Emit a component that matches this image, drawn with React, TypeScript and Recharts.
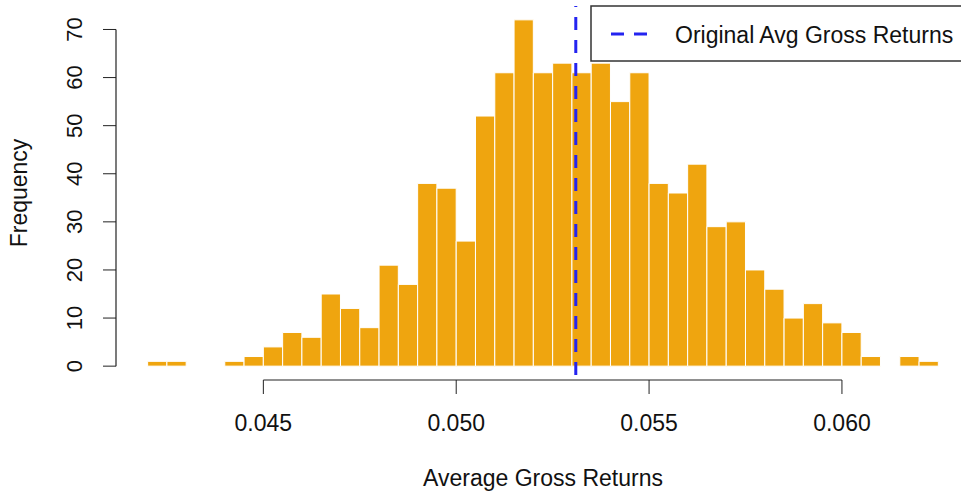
import { ComposedChart, Bar, XAxis, YAxis, ReferenceLine } from 'recharts';

// bin midpoints (bin width 0.0005, breaks 0.042 .. 0.0625)
const binMids = [
  0.04225, 0.04275, 0.04325, 0.04375, 0.04425, 0.04475, 0.04525, 0.04575, 0.04625, 0.04675,
  0.04725, 0.04775, 0.04825, 0.04875, 0.04925, 0.04975, 0.05025, 0.05075, 0.05125, 0.05175,
  0.05225, 0.05275, 0.05325, 0.05375, 0.05425, 0.05475, 0.05525, 0.05575, 0.05625, 0.05675,
  0.05725, 0.05775, 0.05825, 0.05875, 0.05925, 0.05975, 0.06025, 0.06075, 0.06125, 0.06175,
  0.06225,
];
const frequency = [
  1, 1, 0, 0, 1, 2, 4, 7, 6, 15,
  12, 8, 21, 17, 38, 37, 26, 52, 61, 72,
  61, 63, 61, 63, 55, 61, 38, 36, 42, 29,
  30, 20, 16, 10, 13, 9, 7, 2, 0, 2,
  1,
];
const xTicks = [0.045, 0.05, 0.055, 0.06];
const yTicks = [0, 10, 20, 30, 40, 50, 60, 70];
const xDomain = [0.04118, 0.06332];
const yDomain = [-2.88, 74.88];
const originalAvg = 0.0531;

const data = binMids.map((mid, i) => ({ mid, freq: frequency[i] }));

const FONT = '"Liberation Sans", Arial, sans-serif';
const AXIS = '#222';
const BAR = '#efa50f';
const BLUE = '#2424f0';

const XTick = (props: any) => (
  <text x={props.x} y={props.y + 35} textAnchor="middle" fontSize={23} fill="#111" fontFamily={FONT}>
    {Number(props.payload.value).toFixed(3)}
  </text>
);

const YTick = (props: any) => (
  <text
    transform={`translate(${props.x - 19},${props.y}) rotate(-90)`}
    textAnchor="middle"
    fontSize={22}
    fill="#111"
    fontFamily={FONT}
  >
    {props.payload.value}
  </text>
);

const FreqLabel = (props: any) => {
  const vb = props.viewBox || { y: 6, height: 374 };
  const cy = vb.y + vb.height / 2;
  return (
    <text transform={`translate(27,${cy}) rotate(-90)`} textAnchor="middle" fontSize={23} fill="#111" fontFamily={FONT}>
      Frequency
    </text>
  );
};

const XTitle = (props: any) => {
  const vb = props.viewBox || { x: 116, width: 854 };
  return (
    <text x={vb.x + vb.width / 2} y={486} textAnchor="middle" fontSize={23} fill="#111" fontFamily={FONT}>
      Average Gross Returns
    </text>
  );
};

export default function App() {
  return (
    <div
      style={{
        position: 'absolute',
        left: 0,
        top: 0,
        width: 961,
        height: 495,
        overflow: 'hidden',
        background: '#fff',
        fontFamily: FONT,
      }}
    >
      <ComposedChart
        width={980}
        height={495}
        data={data}
        margin={{ top: 6, right: 10, left: 0, bottom: 0 }}
        barCategoryGap={0}
      >
        <XAxis
          dataKey="mid"
          type="number"
          domain={xDomain}
          allowDataOverflow
          ticks={xTicks}
          interval={0}
          height={115}
          axisLine={false}
          tickSize={14}
          tickMargin={2}
          stroke={AXIS}
          tick={<XTick />}
          label={<XTitle />}
        />
        <YAxis
          type="number"
          domain={yDomain}
          allowDataOverflow
          ticks={yTicks}
          interval={0}
          width={116}
          axisLine={false}
          tickSize={13}
          tickMargin={2}
          stroke={AXIS}
          tick={<YTick />}
          label={<FreqLabel />}
        />
        <Bar
          dataKey="freq"
          fill={BAR}
          stroke="#ffffff"
          strokeWidth={1}
          barSize={19.25}
          isAnimationActive={false}
        />
        <ReferenceLine
          segment={[{ x: xDomain[0], y: 0 }, { x: xDomain[0], y: 70 }]}
          stroke={AXIS}
          strokeWidth={1.2}
          ifOverflow="visible"
        />
        <ReferenceLine
          segment={[{ x: 0.045, y: yDomain[0] }, { x: 0.06, y: yDomain[0] }]}
          stroke={AXIS}
          strokeWidth={1.2}
          ifOverflow="visible"
        />
        <ReferenceLine
          x={originalAvg}
          stroke={BLUE}
          strokeWidth={3}
          strokeDasharray="13 10"
          strokeDashoffset={18}
        />
      </ComposedChart>

      <svg
        width={400}
        height={57}
        style={{ position: 'absolute', left: 590, top: 5, overflow: 'visible' }}
      >
        <rect x={1} y={1} width={420} height={55} fill="#fff" stroke="#333" strokeWidth={1.5} />
        <line x1={21} x2={58} y1={29} y2={29} stroke={BLUE} strokeWidth={3} strokeDasharray="13 10" />
        <text x={85} y={38} fontSize={23} fill="#111" fontFamily={FONT}>
          Original Avg Gross Returns
        </text>
      </svg>
    </div>
  );
}
